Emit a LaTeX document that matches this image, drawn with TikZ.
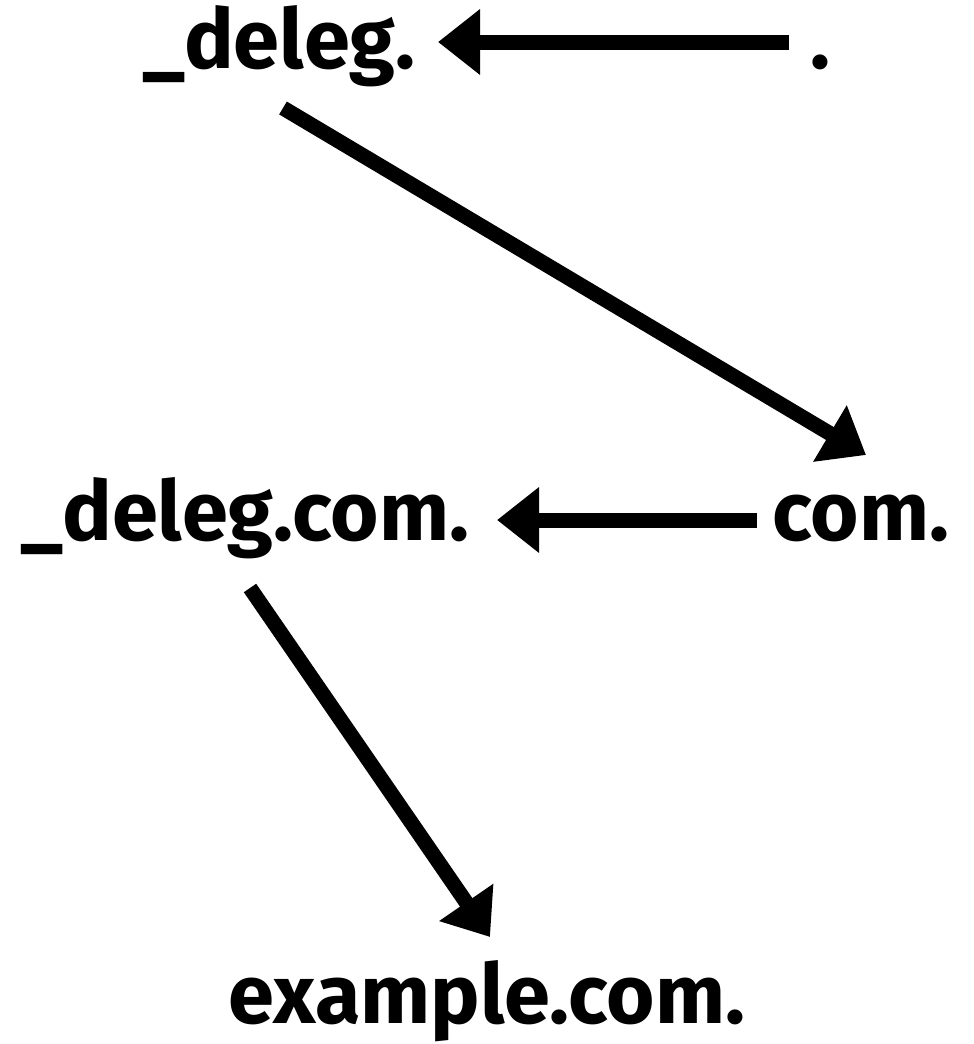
\documentclass[tikz,border=0pt]{standalone}
\usepackage{fontspec}
\setmainfont{Fira Sans}
\usetikzlibrary{arrows.meta}
\begin{document}
\begin{tikzpicture}[x=1pt,y=-1pt,
  lbl/.style={inner sep=0pt, text height=60pt, text depth=18pt, anchor=base,
    font=\fontsize{83}{90}\selectfont\bfseries},
  arr/.style={line width=15pt, -{Triangle[length=42pt,width=63pt]}}]
\useasboundingbox (0,0) rectangle (974,1044);
\node[lbl] (deleg) at (279,68) {\_deleg.};
\node[lbl] (root) at (820,68) {.};
\node[lbl] (dc) at (245,540) {\_deleg.com.};
\node[lbl] (com) at (861,540) {com.};
\node[lbl] (ex) at (487,1023) {example.com.};
\draw[arr] ([shift={(-31,-5)}]root.center) -- ([shift={(159,-5)}]deleg.center);
\draw[arr] ([shift={(4,61)}]deleg.center) -- ([shift={(5,-64)}]com.center);
\draw[arr] ([shift={(-104,1)}]com.center) -- ([shift={(252,1)}]dc.center);
\draw[arr] ([shift={(5,69)}]dc.center) -- ([shift={(3,-65)}]ex.center);
\end{tikzpicture}
\end{document}
